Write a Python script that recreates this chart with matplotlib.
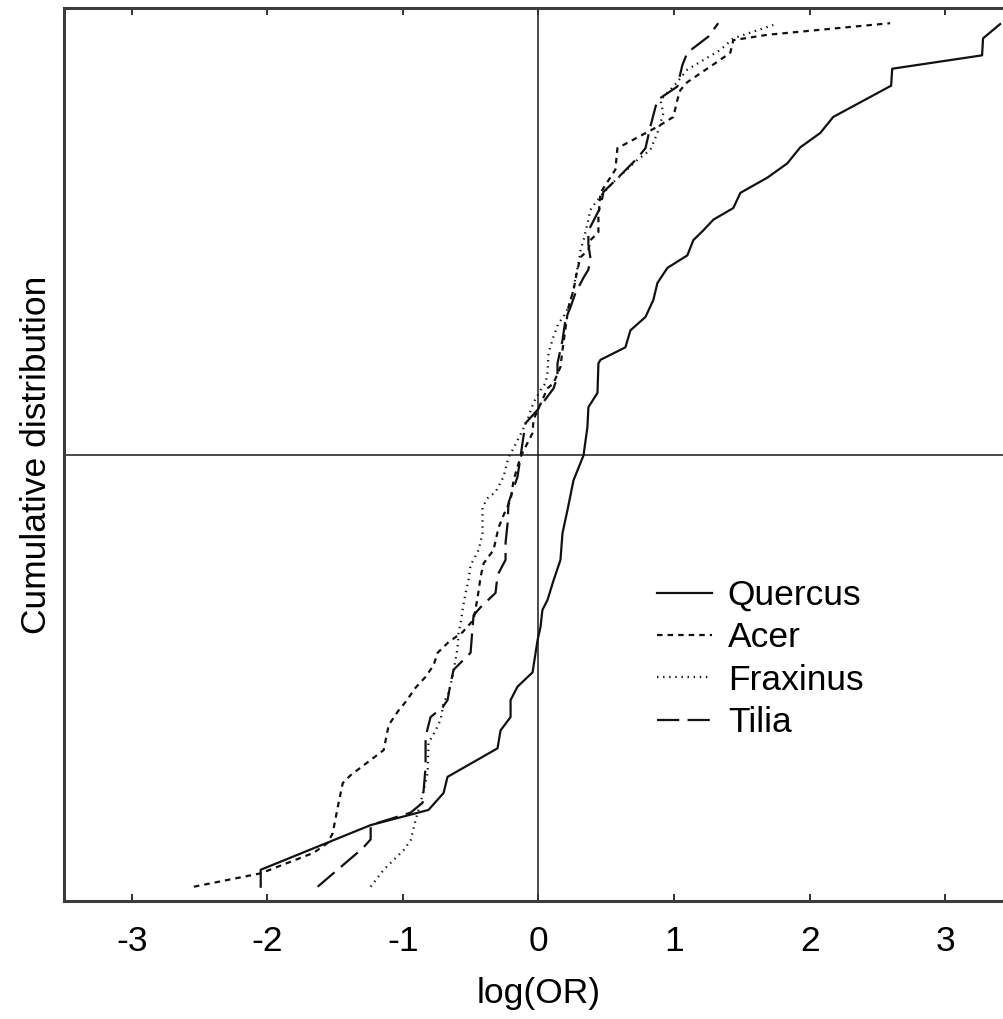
import matplotlib
matplotlib.use("Agg")
import matplotlib.pyplot as plt

plt.rcParams['font.family'] = ['Liberation Sans', 'DejaVu Sans']
plt.rcParams['axes.unicode_minus'] = False
plt.rcParams['lines.scale_dashes'] = False

# ---- data (log(OR), cumulative proportion) ----
quercus_x = [-2.049, -2.049, -1.238, -0.811, -0.700, -0.671, -0.302, -0.280, -0.206, -0.206,
             -0.155, -0.044, -0.007, 0.015, 0.029, 0.066, 0.111, 0.162, 0.177, 0.214,
             0.258, 0.332, 0.361, 0.368, 0.435, 0.442, 0.457, 0.641, 0.678, 0.789,
             0.847, 0.877, 0.951, 1.098, 1.142, 1.216, 1.290, 1.437, 1.489, 1.688,
             1.835, 1.931, 2.078, 2.174, 2.601, 2.609, 3.272, 3.279, 3.405]
quercus_y = [0.016, 0.035, 0.085, 0.102, 0.121, 0.139, 0.171, 0.191, 0.206, 0.225,
             0.240, 0.256, 0.292, 0.307, 0.326, 0.337, 0.359, 0.382, 0.412, 0.438,
             0.471, 0.499, 0.531, 0.553, 0.569, 0.602, 0.606, 0.620, 0.639, 0.654,
             0.673, 0.692, 0.709, 0.723, 0.740, 0.751, 0.763, 0.776, 0.793, 0.810,
             0.826, 0.844, 0.860, 0.878, 0.913, 0.932, 0.947, 0.966, 0.982]

acer_x = [-2.542, -2.049, -1.658, -1.555, -1.518, -1.481, -1.444, -1.385, -1.142, -1.105,
          -1.039, -0.980, -0.906, -0.833, -0.774, -0.744, -0.663, -0.560, -0.479, -0.450,
          -0.427, -0.405, -0.332, -0.295, -0.258, -0.206, -0.184, -0.155, -0.133, -0.081,
          -0.044, -0.037, 0.066, 0.111, 0.162, 0.177, 0.221, 0.258, 0.287, 0.310,
          0.368, 0.383, 0.442, 0.442, 0.457, 0.567, 0.582, 0.877, 0.995, 1.024,
          1.046, 1.098, 1.341, 1.415, 1.437, 1.688, 2.594]
acer_y = [0.016, 0.031, 0.054, 0.065, 0.076, 0.105, 0.132, 0.141, 0.169, 0.197,
          0.212, 0.223, 0.239, 0.251, 0.264, 0.278, 0.290, 0.301, 0.315, 0.339,
          0.363, 0.378, 0.393, 0.418, 0.432, 0.449, 0.471, 0.486, 0.497, 0.513,
          0.524, 0.539, 0.574, 0.580, 0.598, 0.617, 0.665, 0.684, 0.707, 0.721,
          0.729, 0.740, 0.749, 0.766, 0.793, 0.819, 0.843, 0.867, 0.878, 0.897,
          0.908, 0.917, 0.942, 0.950, 0.964, 0.970, 0.983]

fraxinus_x = [-1.238, -1.142, -0.995, -0.943, -0.906, -0.870, -0.818, -0.811, -0.759, -0.722,
              -0.700, -0.663, -0.634, -0.612, -0.597, -0.590, -0.575, -0.560, -0.538, -0.516,
              -0.501, -0.442, -0.413, -0.413, -0.376, -0.317, -0.258, -0.221, -0.184, -0.118,
              -0.074, -0.037, 0.015, 0.052, 0.066, 0.074, 0.111, 0.147, 0.184, 0.221,
              0.258, 0.273, 0.295, 0.310, 0.332, 0.368, 0.383, 0.420, 0.479, 0.553,
              0.730, 0.774, 0.825, 0.877, 0.921, 0.899, 0.995, 1.098, 1.341, 1.437, 1.732]
fraxinus_y = [0.016, 0.035, 0.057, 0.068, 0.091, 0.110, 0.143, 0.177, 0.191, 0.203,
              0.222, 0.233, 0.251, 0.270, 0.284, 0.300, 0.311, 0.326, 0.345, 0.359,
              0.376, 0.393, 0.412, 0.441, 0.451, 0.458, 0.475, 0.497, 0.507, 0.527,
              0.542, 0.558, 0.572, 0.580, 0.591, 0.614, 0.632, 0.647, 0.654, 0.665,
              0.684, 0.699, 0.714, 0.729, 0.740, 0.763, 0.774, 0.782, 0.793, 0.805,
              0.830, 0.835, 0.841, 0.860, 0.882, 0.897, 0.912, 0.931, 0.953, 0.966, 0.981]

tilia_x = [-1.629, -1.297, -1.238, -1.238, -0.943, -0.855, -0.833, -0.833, -0.796, -0.707,
           -0.671, -0.648, -0.626, -0.501, -0.486, -0.479, -0.427, -0.317, -0.302, -0.243,
           -0.243, -0.228, -0.221, -0.155, -0.133, -0.118, -0.096, -0.007, 0.111, 0.140,
           0.140, 0.177, 0.199, 0.236, 0.273, 0.332, 0.368, 0.383, 0.368, 0.368,
           0.383, 0.457, 0.479, 0.567, 0.730, 0.789, 0.825, 0.847, 0.877, 0.936,
           1.024, 1.061, 1.098, 1.253, 1.326]
tilia_y = [0.016, 0.059, 0.069, 0.085, 0.099, 0.110, 0.150, 0.184, 0.206, 0.217,
           0.225, 0.244, 0.259, 0.278, 0.307, 0.320, 0.329, 0.345, 0.365, 0.382,
           0.401, 0.423, 0.446, 0.475, 0.497, 0.513, 0.535, 0.550, 0.574, 0.587,
           0.602, 0.628, 0.651, 0.665, 0.681, 0.698, 0.707, 0.720, 0.735, 0.751,
           0.755, 0.777, 0.794, 0.807, 0.832, 0.843, 0.867, 0.880, 0.897, 0.903,
           0.912, 0.936, 0.950, 0.968, 0.983]

species = ['Quercus', 'Acer', 'Fraxinus', 'Tilia']
xticks = [-3, -2, -1, 0, 1, 2, 3]

# ---- figure ----
W, H = 1004, 1019
fig = plt.figure(figsize=(W / 100, H / 100), dpi=100)
left, right, top, bottom = 64, 1013, 8, 901
ax = fig.add_axes([left / W, 1 - bottom / H, (right - left) / W, (bottom - top) / H])

col = '#111111'
lw = 1.6
fs = 25.5
styles = {
    'Quercus': dict(linestyle='-'),
    'Acer': dict(linestyle=(0, (4.0, 3.6))),
    'Fraxinus': dict(linestyle=(0, (1.0, 3.4))),
    'Tilia': dict(linestyle=(0, (16, 6))),
}
data = {'Quercus': (quercus_x, quercus_y), 'Acer': (acer_x, acer_y),
        'Fraxinus': (fraxinus_x, fraxinus_y), 'Tilia': (tilia_x, tilia_y)}

handles = []
for sp in species:
    xs, ys = data[sp]
    h, = ax.plot(xs, ys, color=col, lw=lw, label=sp, **styles[sp])
    handles.append(h)

ax.axvline(0, color='#1a1a1a', lw=1.1, zorder=1)
ax.axhline(0.5, color='#1a1a1a', lw=1.1, zorder=1)

ax.set_xlim(-3.5, 3.5)
ax.set_ylim(0, 1)
ax.set_xticks(xticks)
ax.set_xticklabels([str(t) for t in xticks])
ax.set_yticks([])
ax.tick_params(axis='x', direction='in', top=True, bottom=True, length=5, width=1.4,
               color='#333333', labelsize=fs, pad=17)
for s in ax.spines.values():
    s.set_linewidth(2.2)
    s.set_color('#3c3c3c')

ax.set_xlabel('log(OR)', fontsize=fs, labelpad=14)
ax.set_ylabel('Cumulative distribution', fontsize=fs, labelpad=8)

ax.legend(handles=handles, loc='upper left', bbox_to_anchor=(657 / W, 1 - 579 / H),
          bbox_transform=fig.transFigure, frameon=False, borderpad=0, borderaxespad=0,
          handlelength=1.55, handletextpad=0.45, labelspacing=0.265, fontsize=fs)

fig.savefig('out.png', dpi=100)
